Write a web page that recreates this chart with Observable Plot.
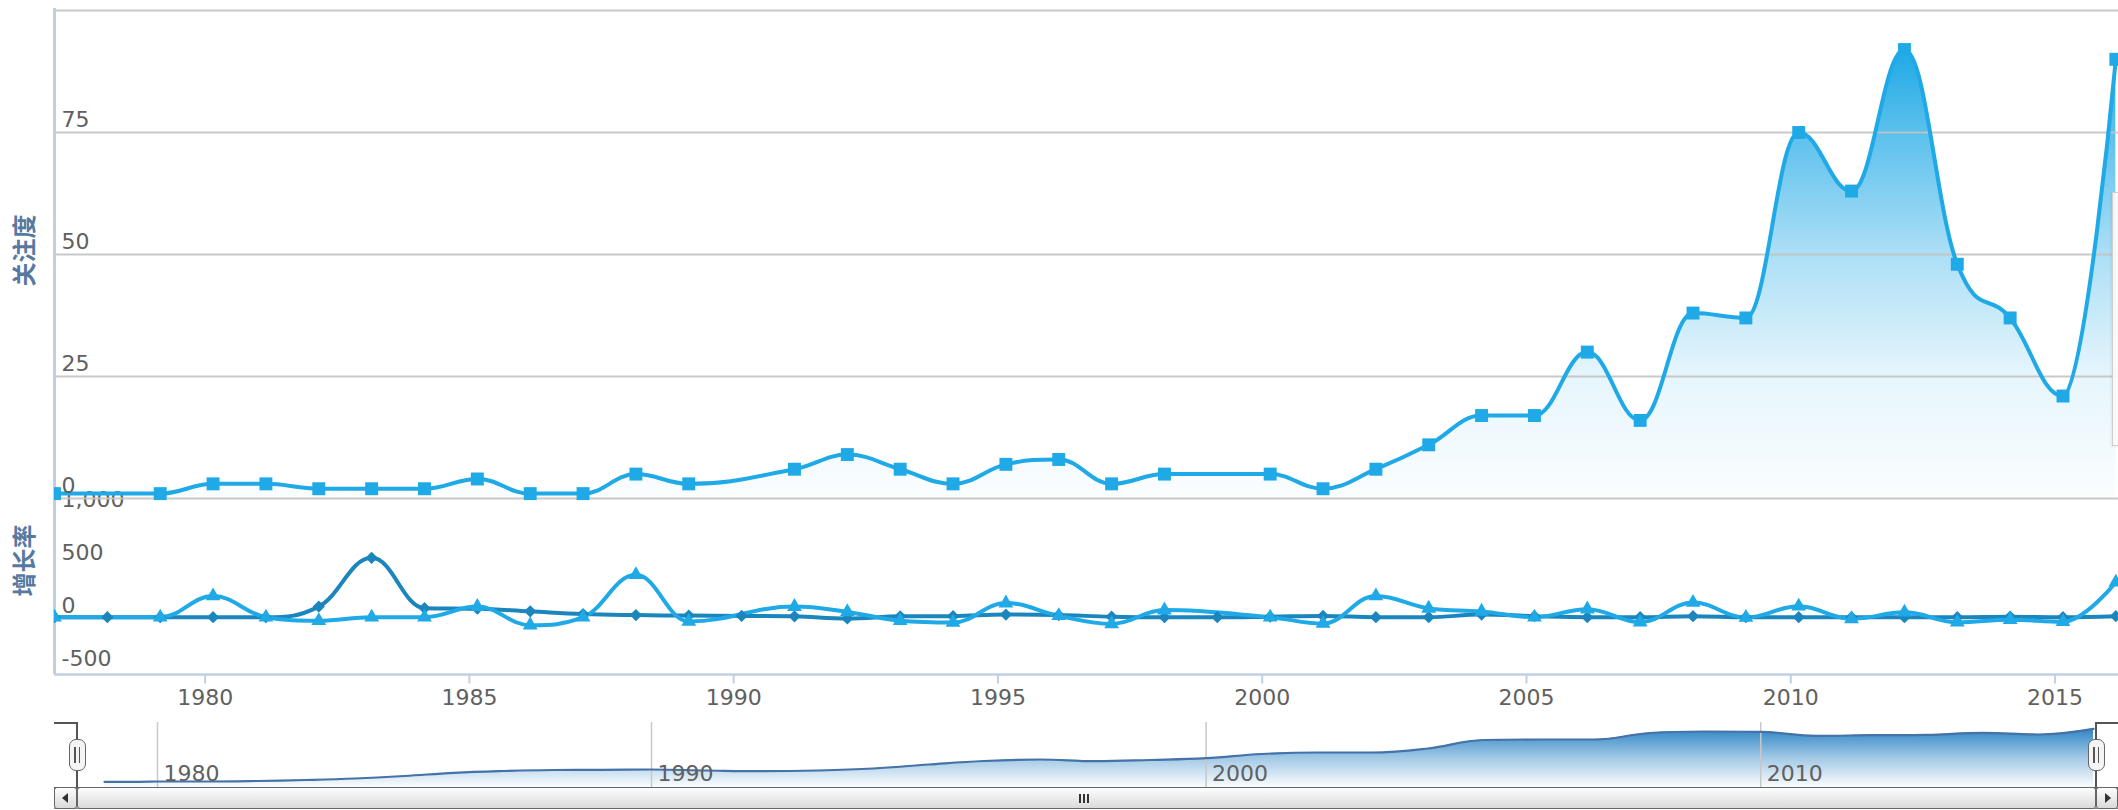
<!DOCTYPE html>
<html>
<head>
<meta charset="utf-8">
<script src="https://cdn.jsdelivr.net/npm/d3@7"></script>
<script src="https://cdn.jsdelivr.net/npm/@observablehq/plot@0.6"></script>
<style>
html, body { margin: 0; padding: 0; background: #fff; }
#wrap { position: relative; width: 2118px; height: 810px; overflow: hidden; font-family: "DejaVu Sans", sans-serif; }
.layer { position: absolute; left: 0; }
.layer svg { overflow: visible; background: transparent; display: block; }
.chrome { position: absolute; box-sizing: border-box; }
.btn { background: linear-gradient(#fdfdfd, #dadada); border: 1.5px solid #666; border-radius: 3px; }
</style>
</head>
<body>
<div id="wrap">
  <div class="layer" id="lower" style="top:498px"></div>
  <div class="layer" id="upper" style="top:0px"></div>
  <div class="layer" id="nav" style="top:722px"></div>
</div>
<script>
// ---------------- data ----------------
const attentionYears = [1977, 1979, 1980, 1981, 1982, 1983, 1984, 1985, 1986, 1987, 1988, 1989,
  1991, 1992, 1993, 1994, 1995, 1996, 1997, 1998,
  2000, 2001, 2002, 2003, 2004, 2005, 2006, 2007, 2008, 2009, 2010, 2011, 2012, 2013, 2014, 2015, 2016];
const attention = [1, 1, 3, 3, 2, 2, 2, 4, 1, 1, 5, 3,
  6, 9, 6, 3, 7, 8, 3, 5,
  5, 2, 6, 11, 17, 17, 30, 16, 38, 37, 75, 63, 92, 48, 37, 21, 90];
// growth rate (%) of 关注度, triangle series
const attentionGrowth = [0, 0, 200, 0, -33, 0, 0, 100, -75, 0, 400, -40,
  100, 50, -33, -50, 133, 14, -63, 67,
  0, -60, 200, 83, 55, 0, 76, -47, 138, -3, 103, -16, 46, -48, -23, -43, 329];
// second growth rate series (diamonds), every year
const allYears = [1977, 1978, 1979, 1980, 1981, 1982, 1983, 1984, 1985, 1986, 1987, 1988, 1989, 1990,
  1991, 1992, 1993, 1994, 1995, 1996, 1997, 1998, 1999, 2000, 2001, 2002, 2003, 2004, 2005, 2006,
  2007, 2008, 2009, 2010, 2011, 2012, 2013, 2014, 2015, 2016];
const otherGrowth = [0, 0, 0, 0, 0, 100, 560, 85, 80, 55, 30, 20, 15, 12,
  8, -12, 8, 10, 25, 20, 5, 0, 0, 5, 12, 0, 0, 25, 10, 0,
  0, 10, 0, 0, 0, 0, 0, 5, 0, 10];
// navigator series (overview), every year
const navigatorValues = [5.7, 5.7, 5.7, 6, 6, 6.5, 7.5, 9, 11.5, 14.7, 16.5, 17.5, 17.7, 18,
  17, 16.3, 17, 19, 23, 26.5, 28, 26.3, 27.5, 29.3, 33.5, 35, 35, 39, 47.5, 48,
  48, 54.5, 56, 55.7, 51.7, 52.3, 52.7, 54.7, 53, 58.7];
const xTickYears = [1980, 1985, 1990, 1995, 2000, 2005, 2010, 2015];
const navTickYears = [1980, 1990, 2000, 2010];
const upperTicks = [0, 25, 50, 75];
const upperGrid = [0, 25, 50, 75, 100];
const lowerTicks = [1000, 500, 0, -500];
const axisTitles = ["关注度", "增长率"];

// points are time-stamped a little after 1 January of each year
const POINT_OFFSET = 0.15;
const xDomain = [1977 + POINT_OFFSET, 2016.2];

const attnData = attentionYears.map((yr, i) => ({x: yr + POINT_OFFSET, v: attention[i]}));
const triData = attentionYears.map((yr, i) => ({x: yr + POINT_OFFSET, v: attentionGrowth[i]}));
const diaData = allYears.map((yr, i) => ({x: yr + POINT_OFFSET, v: otherGrowth[i]}));
const navData = allYears.map((yr, i) => ({x: yr, v: navigatorValues[i]}));

// ---------------- Highcharts-like spline curve ----------------
function HCSpline(context) { this._context = context; }
HCSpline.prototype = {
  areaStart() { this._line = 0; },
  areaEnd() { this._line = NaN; },
  lineStart() { this._pts = []; },
  point(x, y) { this._pts.push([+x, +y]); },
  lineEnd() {
    const p = this._pts, n = p.length, c = this._context;
    if (n) {
      if (this._line) c.lineTo(p[0][0], p[0][1]); else c.moveTo(p[0][0], p[0][1]);
      const sm = 1.5, den = sm + 1;
      const L = [], R = [];
      for (let i = 0; i < n; i++) {
        const [x, y] = p[i];
        if (i > 0 && i < n - 1) {
          const [lx, ly] = p[i - 1], [nx, ny] = p[i + 1];
          let lcx = (sm * x + lx) / den, lcy = (sm * y + ly) / den;
          let rcx = (sm * x + nx) / den, rcy = (sm * y + ny) / den;
          let corr = 0;
          if (rcx !== lcx) corr = ((rcy - lcy) * (rcx - x)) / (rcx - lcx) + y - rcy;
          lcy += corr; rcy += corr;
          if (lcy > ly && lcy > y) { lcy = Math.max(ly, y); rcy = 2 * y - lcy; }
          else if (lcy < ly && lcy < y) { lcy = Math.min(ly, y); rcy = 2 * y - lcy; }
          if (rcy > ny && rcy > y) { rcy = Math.max(ny, y); lcy = 2 * y - rcy; }
          else if (rcy < ny && rcy < y) { rcy = Math.min(ny, y); lcy = 2 * y - rcy; }
          L[i] = [lcx, lcy]; R[i] = [rcx, rcy];
        } else { L[i] = [x, y]; R[i] = [x, y]; }
      }
      for (let i = 1; i < n; i++) c.bezierCurveTo(R[i - 1][0], R[i - 1][1], L[i][0], L[i][1], p[i][0], p[i][1]);
    }
    if (this._line || (this._line !== 0 && n === 1)) c.closePath();
    this._line = 1 - this._line;
  }
};
const hcSpline = ctx => new HCSpline(ctx);

function gradientDefs(id, color, stops) {
  return () => {
    const defs = d3.create("svg:defs");
    const g = defs.append("linearGradient").attr("id", id)
      .attr("x1", 0).attr("y1", 0).attr("x2", 0).attr("y2", 1);
    for (const [o, op] of stops) g.append("stop").attr("offset", o).attr("stop-color", color).attr("stop-opacity", op);
    return defs.node();
  };
}

const BLUE = "#1fa9e6";
const DARK = "#1b86bd";
const LABEL = "#606060";
const AXIS = "#c0d0e0";
const TITLE = "#56799f";
const FONT = "DejaVu Sans";

// ---------------- upper panel: 关注度 ----------------
const upper = Plot.plot({
  width: 2118, height: 512,
  marginLeft: 54, marginRight: 0, marginTop: 8, marginBottom: 0,
  style: {background: "transparent", overflow: "visible", fontFamily: FONT},
  x: {domain: xDomain, axis: null},
  y: {domain: [0, 100], insetTop: 2, insetBottom: 14, axis: null},
  marks: [
    gradientDefs("attnGrad", BLUE, [[0, 1], [0.18, 0.74], [0.45, 0.38], [0.73, 0.11], [1, 0.02]]),
    Plot.areaY(attnData, {x: "x", y: "v", curve: hcSpline, fill: "url(#attnGrad)", clip: true}),
    Plot.ruleY(upperGrid, {stroke: "#c2c2c2", strokeWidth: 2, strokeOpacity: 0.9}),
    Plot.ruleX([xDomain[0]], {stroke: AXIS, strokeWidth: 3}),
    Plot.line(attnData, {x: "x", y: "v", curve: hcSpline, stroke: BLUE, strokeWidth: 4, clip: true}),
    Plot.dot(attnData, {x: "x", y: "v", symbol: "square", r: 7.3, fill: BLUE, clip: true}),
    Plot.text(upperTicks, {y: d => d, text: d => String(d), frameAnchor: "left", dx: 7, dy: -6,
      textAnchor: "start", lineAnchor: "bottom", fontSize: 22, fill: LABEL}),
    Plot.text([axisTitles[0]], {text: d => d, frameAnchor: "left", dx: -29, dy: -10, rotate: -90,
      textAnchor: "middle", lineAnchor: "middle",
      fontSize: 24, fontWeight: "bold", fill: TITLE, fontFamily: "Noto Sans CJK SC"})
  ]
});
document.getElementById("upper").appendChild(upper);

// ---------------- lower panel: 增长率 ----------------
const tickSymbol = {draw(ctx) { ctx.moveTo(0, 0); ctx.lineTo(0, 9); }};
const lower = Plot.plot({
  width: 2118, height: 212,
  marginLeft: 54, marginRight: 0, marginTop: 0, marginBottom: 36,
  style: {background: "transparent", overflow: "visible", fontFamily: FONT},
  x: {domain: xDomain, axis: null},
  y: {domain: [-500, 1000], insetTop: 12.7, insetBottom: 4.3, axis: null},
  marks: [
    Plot.ruleX([xDomain[0]], {stroke: AXIS, strokeWidth: 3}),
    Plot.ruleY([-500], {dy: 4.3, stroke: AXIS, strokeWidth: 2.5}),
    Plot.dot(xTickYears, {x: d => d, frameAnchor: "bottom", symbol: tickSymbol, stroke: AXIS, strokeWidth: 2, fill: "none"}),
    Plot.text(xTickYears, {x: d => d, text: d => String(d), frameAnchor: "bottom", dy: 30,
      textAnchor: "middle", lineAnchor: "bottom", fontSize: 22, fill: LABEL}),
    Plot.line(diaData, {x: "x", y: "v", curve: hcSpline, stroke: DARK, strokeWidth: 4, clip: true}),
    Plot.line(triData, {x: "x", y: "v", curve: hcSpline, stroke: BLUE, strokeWidth: 4, clip: true}),
    Plot.dot(diaData, {x: "x", y: "v", symbol: "diamond2", r: 5.5, fill: DARK, clip: true}),
    Plot.dot(triData, {x: "x", y: "v", symbol: "triangle", r: 5.5, fill: BLUE, clip: true}),
    Plot.text(lowerTicks, {y: d => d, text: d => d.toLocaleString("en-US"), frameAnchor: "left", dx: 7, dy: -4,
      textAnchor: "start", lineAnchor: "bottom", fontSize: 22, fill: LABEL}),
    Plot.text([axisTitles[1]], {text: d => d, frameAnchor: "left", dx: -29, dy: -26, rotate: -90,
      textAnchor: "middle", lineAnchor: "middle",
      fontSize: 24, fontWeight: "bold", fill: TITLE, fontFamily: "Noto Sans CJK SC"})
  ]
});
document.getElementById("lower").appendChild(lower);

// ---------------- navigator ----------------
// the navigator's time axis is not uniform (ordinal-style spacing of the overview)
const navTime = d3.scaleLinear().domain([1977, 1980, 1990, 2016]).range([104, 157, 651, 2093]);
const nav = Plot.plot({
  width: 2118, height: 65,
  marginLeft: 0, marginRight: 0, marginTop: 0, marginBottom: 0,
  style: {background: "transparent", overflow: "visible", fontFamily: FONT},
  x: {transform: navTime, domain: [0, 2118], range: [0, 2118], axis: null},
  y: {domain: [0, 65], range: [65, 0], axis: null},
  marks: [
    gradientDefs("navGrad", "#2f86c6", [[0, 1], [0.5, 0.45], [1, 0.02]]),
    Plot.areaY(navData, {x: "x", y: "v", curve: hcSpline, fill: "url(#navGrad)"}),
    Plot.ruleX(navTickYears, {x: d => d, stroke: "#c8c8c8", strokeWidth: 1.5}),
    Plot.line(navData, {x: "x", y: "v", curve: hcSpline, stroke: "#4572a7", strokeWidth: 2.2}),
    Plot.text(navTickYears, {x: d => d, text: d => String(d), frameAnchor: "bottom", dx: 6, dy: -7,
      textAnchor: "start", lineAnchor: "bottom", fontSize: 22, fill: LABEL})
  ]
});
document.getElementById("nav").appendChild(nav);

// ---------------- navigator / scrollbar chrome ----------------
const wrap = document.getElementById("wrap");
function box(css, cls = "chrome") {
  const d = document.createElement("div");
  d.className = cls;
  d.style.cssText = css;
  wrap.appendChild(d);
  return d;
}
// outline of the navigator mask
box("left:54px;top:722px;width:24px;height:2px;background:#555;");
box("left:76px;top:722px;width:2px;height:65px;background:#555;");
box("left:2095px;top:722px;width:23px;height:2px;background:#555;");
box("left:2095px;top:722px;width:2px;height:65px;background:#555;");
// handles
for (const cx of [77, 2096]) {
  box(`left:${cx - 8.5}px;top:739px;width:17px;height:32px;background:#f4f4f4;border:1.5px solid #666;border-radius:7px;`);
  box(`left:${cx - 3}px;top:747px;width:1.5px;height:16px;background:#555;`);
  box(`left:${cx + 1.5}px;top:747px;width:1.5px;height:16px;background:#555;`);
}
// scrollbar
box("left:54px;top:787px;width:2064px;height:22px;background:linear-gradient(#f8f8f8,#dedede);border-top:2px solid #666;border-bottom:1.5px solid #888;");
box("left:77px;top:787px;width:2019px;height:22px;", "chrome btn");
box("left:54px;top:787px;width:23px;height:22px;", "chrome btn");
box("left:2096px;top:787px;width:22px;height:22px;", "chrome btn");
box("left:62px;top:793px;width:0;height:0;border-top:5px solid transparent;border-bottom:5px solid transparent;border-right:6px solid #333;");
box("left:2105px;top:793px;width:0;height:0;border-top:5px solid transparent;border-bottom:5px solid transparent;border-left:6px solid #333;");
for (const gx of [1079, 1083, 1087]) box(`left:${gx}px;top:794px;width:1.5px;height:9px;background:#333;`);
// edge of a tooltip box peeking in at the right
box("left:2112px;top:192px;width:20px;height:254px;background:rgba(248,248,248,0.92);border:1.5px solid #cfcfcf;box-shadow:-1px 1px 2px rgba(0,0,0,0.08);");
</script>
</body>
</html>
